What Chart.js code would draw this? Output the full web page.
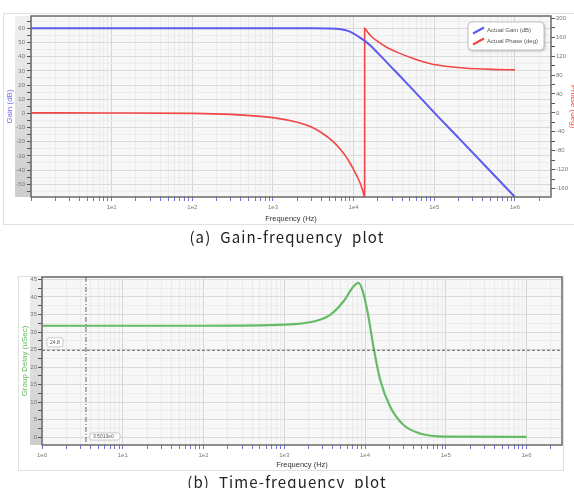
<!DOCTYPE html>
<html>
<head>
<meta charset="utf-8">
<script src="https://cdn.jsdelivr.net/npm/chart.js@4/dist/chart.umd.min.js"></script>
<style>
  html, body { margin: 0; padding: 0; background: #fff; }
  body { width: 574px; height: 488px; position: relative; overflow: hidden; }
  .frame { position: absolute; border: 1px solid #e0e0e0; box-sizing: border-box; }
  #boxA { left: 3px; top: 13px; width: 572px; height: 212px; }
  #boxB { left: 18px; top: 276px; width: 546px; height: 195px; }
  .wrap { position: absolute; left: 0; }
  #wrapA { top: 0; width: 574px; height: 230px; }
  #wrapB { top: 240px; width: 574px; height: 248px; }
  .caption { position: absolute; left: 0; width: 574px; text-align: center; font-family: "Noto Sans CJK KR", "Noto Sans", sans-serif;
             font-size: 15px; line-height: 18px; letter-spacing: 1.1px; color: #222; white-space: pre; }
  #capA { top: 228px; }
  #capB { top: 473px; }
</style>
</head>
<body>
<div class="frame" id="boxA"></div>
<div class="frame" id="boxB"></div>
<div class="wrap" id="wrapA"><canvas id="gainChart" width="574" height="230"></canvas></div>
<div class="wrap" id="wrapB"><canvas id="delayChart" width="574" height="248"></canvas></div>
<div class="caption" id="capA">(a)  Gain-frequency  plot</div>
<div class="caption" id="capB">(b)  Time-frequency  plot</div>

<script>
// ---- data ----
const gainFreq = [1, 10, 100, 1000, 3000, 5000, 7000, 8500, 10000, 12000, 14000, 16000, 20000, 30000, 50000, 100000, 200000, 500000, 1000000];
const gainDb   = [60, 60, 60, 60, 60, 59.9, 59.3, 58.2, 56.3, 53.5, 50.8, 48, 42.5, 32.1, 18.9, 0.5, -17.3, -41, -59];

const phaseFreq = [1, 10, 100, 300, 1000, 2000, 3000, 4000, 5000, 6000, 7000, 8000, 9000, 10000, 11000, 12000, 13000, 13700,
                   13700, 15000, 17000, 20000, 25000, 35000, 55000, 90000, 150000, 230000, 500000, 1000000];
const phaseDeg  = [0, -0.3, -1, -3.2, -10, -20, -30, -42, -54, -66, -79, -92, -106, -120, -134, -148, -165, -178,
                   179, 170, 160, 151, 140, 128, 115, 104, 98, 95, 92, 91];

const delayFreq = [1, 10, 100, 1000, 2300, 3700, 5400, 7200, 8300, 9560, 11000, 12700, 15400, 20500, 30000, 48000, 100000, 1000000];
const delayUs   = [31.8, 31.8, 31.8, 32.1, 33, 34.9, 38.7, 43, 44, 41, 34.5, 25.9, 16.4, 8.7, 3.5, 1.1, 0.2, 0.1];

const freqDecades  = [1, 10, 100, 1000, 10000, 100000, 1000000];
const freqLabels   = ['1e0', '1e1', '1e2', '1e3', '1e4', '1e5', '1e6'];
const gainTicks    = [-50, -40, -30, -20, -10, 0, 10, 20, 30, 40, 50, 60];
const phaseTicks   = [-160, -120, -80, -40, 0, 40, 80, 120, 160, 200];
const delayTicks   = [0, 5, 10, 15, 20, 25, 30, 35, 40, 45];

const cursorFreq  = 3.5013;
const cursorDelay = 24.8;

// ---- helpers ----
Chart.defaults.font.family = "'Liberation Sans', Arial, sans-serif";
const tickFont = { size: 6 };
const tickGrey = '#777';

function pts(xs, ys) { return xs.map((x, i) => ({ x: x, y: ys[i] })); }

function logTicks(min, max) {
  const t = [];
  for (let e = 0; e <= 6; e++) {
    for (let m = 1; m <= 9; m++) {
      const v = m * Math.pow(10, e);
      if (v >= min && v <= max) t.push({ value: v });
    }
  }
  return t;
}
// labelled ticks plus a minor one half way between, kept inside the axis range
function withMinor(major, min, max) {
  const step = major[1] - major[0];
  const t = [{ value: major[0] - step / 2 }];
  major.forEach(v => { t.push({ value: v }); t.push({ value: v + step / 2 }); });
  return t.filter(k => k.value >= min && k.value <= max);
}
function decadeLabel(v, showFirst) {
  const i = freqDecades.indexOf(v);
  if (i < 0) return '';
  if (i === 0 && !showFirst) return '';
  return freqLabels[i];
}
function isDecade(v) { return freqDecades.indexOf(v) >= 0; }

function roundRect(ctx, x, y, w, h, r) {
  ctx.beginPath();
  ctx.moveTo(x + r, y);
  ctx.lineTo(x + w - r, y); ctx.quadraticCurveTo(x + w, y, x + w, y + r);
  ctx.lineTo(x + w, y + h - r); ctx.quadraticCurveTo(x + w, y + h, x + w - r, y + h);
  ctx.lineTo(x + r, y + h); ctx.quadraticCurveTo(x, y + h, x, y + h - r);
  ctx.lineTo(x, y + r); ctx.quadraticCurveTo(x, y, x + r, y);
  ctx.closePath();
}

function drawLegend(ctx, box, entries) {
  ctx.save();
  ctx.shadowColor = 'rgba(0,0,0,0.28)';
  ctx.shadowBlur = 3; ctx.shadowOffsetX = 1; ctx.shadowOffsetY = 1;
  roundRect(ctx, box.x, box.y, box.w, box.h, 4);
  ctx.fillStyle = '#fff';
  ctx.fill();
  ctx.shadowColor = 'transparent';
  ctx.strokeStyle = '#c4c4c4'; ctx.lineWidth = 1;
  ctx.stroke();
  ctx.font = box.font + "px 'Liberation Sans', Arial, sans-serif";
  ctx.textBaseline = 'middle';
  entries.forEach((e, i) => {
    const cy = box.y + box.first + i * box.row;
    ctx.strokeStyle = e.color; ctx.lineWidth = 2;
    ctx.beginPath();
    ctx.moveTo(box.x + 5, cy + 3);
    ctx.lineTo(box.x + 16, cy - 3);
    ctx.stroke();
    ctx.fillStyle = '#555';
    ctx.fillText(e.label, box.x + 19, cy);
  });
  ctx.restore();
}

// plot background, grey band at left, and plot border
const plotDecor = {
  id: 'plotDecor',
  beforeDraw(chart, args, opts) {
    const { ctx, chartArea: a } = chart;
    ctx.save();
    const g = ctx.createLinearGradient(0, a.top, 0, a.bottom);
    g.addColorStop(0, '#f0f0f0');
    g.addColorStop(1, '#cdcdcd');
    ctx.fillStyle = g;
    ctx.fillRect(opts.bandLeft, a.top, a.left - opts.bandLeft, a.bottom - a.top);
    ctx.fillStyle = '#f7f7f7';
    ctx.fillRect(a.left, a.top, a.right - a.left, a.bottom - a.top);
    ctx.restore();
  },
  afterDraw(chart, args, opts) {
    const { ctx, chartArea: a } = chart;
    ctx.save();
    ctx.strokeStyle = '#6a6a6a';
    ctx.lineWidth = 1.5;
    ctx.strokeRect(a.left, a.top, a.right - a.left, a.bottom - a.top);
    ctx.restore();
    if (opts.legend) {
      const entries = chart.data.datasets
        .filter(d => d.label)
        .map(d => ({ label: d.label, color: d.borderColor }));
      drawLegend(ctx, opts.legend, entries);
    }
    if (opts.cursor) opts.cursor(chart);
  }
};

function xScale(max, height, titlePad, showFirst) {
  return {
    type: 'logarithmic', min: 1, max: max,
    afterBuildTicks: s => { s.ticks = logTicks(1, max); },
    afterFit: s => { s.height = height; },
    border: { display: false },
    grid: {
      color: c => isDecade(c.tick && c.tick.value) ? '#d6d6d6' : '#ebebeb',
      tickColor: '#7070e6', tickLength: 4
    },
    ticks: { autoSkip: false, maxRotation: 0, padding: 3, font: tickFont, color: tickGrey,
             callback: v => decadeLabel(v, showFirst) },
    title: { display: true, text: 'Frequency (Hz)', color: '#333', font: { size: 7.5 },
             padding: { top: 0, bottom: titlePad } }
  };
}

// ---- (a) gain / phase ----
new Chart(document.getElementById('gainChart').getContext('2d'), {
  type: 'line',
  data: {
    datasets: [{
      label: 'Actual Gain (dB)',
      data: pts(gainFreq, gainDb),
      borderColor: '#5a5af0',
      borderWidth: 2,
      yAxisID: 'y',
      cubicInterpolationMode: 'monotone'
    }, {
      label: 'Actual Phase (deg)',
      data: pts(phaseFreq, phaseDeg),
      borderColor: '#f04646',
      borderWidth: 1.6,
      yAxisID: 'yPhase',
      cubicInterpolationMode: 'monotone'
    }]
  },
  options: {
    responsive: false,
    animation: false,
    layout: { padding: { top: 16, right: 0, left: 0, bottom: 0 } },
    elements: { point: { radius: 0 } },
    scales: {
      x: xScale(2.8e6, 33, 7, false),
      y: {
        position: 'left', min: -59, max: 68.7,
        afterBuildTicks: s => { s.ticks = withMinor(gainTicks, -59, 68.7); },
        afterFit: s => { s.width = 31; },
        border: { display: false },
        grid: { color: c => (c.tick && c.tick.value % 10 === 0) ? '#dadada' : '#ededed', tickColor: '#555', tickLength: 4 },
        ticks: { autoSkip: false, padding: 2, font: tickFont, color: tickGrey,
                 callback: v => gainTicks.indexOf(v) >= 0 ? String(v) : '' },
        title: { display: true, text: 'Gain (dB)', color: '#6a6af2', font: { size: 8 }, padding: { top: 5, bottom: 0 } }
      },
      yPhase: {
        position: 'right', min: -178, max: 205,
        afterBuildTicks: s => { s.ticks = withMinor(phaseTicks, -178, 205); },
        afterFit: s => { s.width = 23; },
        border: { display: false },
        grid: { drawOnChartArea: false, tickColor: '#555', tickLength: 4 },
        ticks: { autoSkip: false, padding: 1, font: tickFont, color: tickGrey,
                 callback: v => phaseTicks.indexOf(v) >= 0 ? String(v) : '' },
        title: { display: true, text: 'Phase (deg)', color: '#f04646', font: { size: 8 }, padding: { top: -4.5, bottom: 0 } }
      }
    },
    plugins: {
      legend: { display: false },
      tooltip: { enabled: false },
      plotDecor: {
        bandLeft: 15,
        legend: { x: 468, y: 22, w: 76, h: 28, first: 8.5, row: 11, font: 6 }
      }
    }
  },
  plugins: [plotDecor]
});

// ---- (b) group delay ----
function drawCursor(chart) {
  const { ctx, chartArea: a } = chart;
  const px = chart.scales.x.getPixelForValue(cursorFreq);
  const py = chart.scales.y.getPixelForValue(cursorDelay);
  ctx.save();
  ctx.strokeStyle = '#666';
  ctx.lineWidth = 1;
  ctx.setLineDash([3, 2]);
  ctx.beginPath(); ctx.moveTo(a.left, py); ctx.lineTo(a.right, py); ctx.stroke();
  ctx.setLineDash([5, 2, 1, 2]);
  ctx.beginPath(); ctx.moveTo(px, a.top); ctx.lineTo(px, a.bottom); ctx.stroke();
  ctx.setLineDash([]);
  ctx.font = "5px 'Liberation Sans', Arial, sans-serif";
  ctx.textBaseline = 'middle';
  const labels = [
    { text: cursorDelay.toFixed(1), x: a.left + 5, y: py - 12.5, w: 16, h: 9 },
    { text: cursorFreq.toFixed(4) + 'e0', x: px + 4, y: a.bottom - 12, w: 30, h: 7 }
  ];
  labels.forEach(l => {
    ctx.shadowColor = 'rgba(0,0,0,0.2)'; ctx.shadowBlur = 2;
    roundRect(ctx, l.x, l.y, l.w, l.h, 2.5);
    ctx.fillStyle = '#fff'; ctx.fill();
    ctx.shadowColor = 'transparent';
    ctx.strokeStyle = '#d0d0d0'; ctx.stroke();
    ctx.fillStyle = '#555';
    ctx.fillText(l.text, l.x + 3, l.y + l.h / 2);
  });
  ctx.restore();
}

new Chart(document.getElementById('delayChart').getContext('2d'), {
  type: 'line',
  data: {
    datasets: [{
      label: 'Actual Group Delay (uSec)',
      data: pts(delayFreq, delayUs),
      borderColor: '#66bb66',
      borderWidth: 2.2,
      cubicInterpolationMode: 'monotone'
    }]
  },
  options: {
    responsive: false,
    animation: false,
    layout: { padding: { top: 37, right: 12, left: 0, bottom: 0 } },
    elements: { point: { radius: 0 } },
    scales: {
      x: xScale(2.75e6, 43, 18.8, true),
      y: {
        position: 'left', min: -2.2, max: 45.7,
        afterBuildTicks: s => { s.ticks = withMinor(delayTicks, -2.2, 45.7); },
        afterFit: s => { s.width = 42; },
        border: { display: false },
        grid: { color: c => (c.tick && c.tick.value % 5 === 0) ? '#dadada' : '#ededed', tickColor: '#555', tickLength: 4 },
        ticks: { autoSkip: false, padding: 1, font: tickFont, color: tickGrey,
                 callback: v => delayTicks.indexOf(v) >= 0 ? String(v) : '' },
        title: { display: true, text: 'Group Delay (uSec)', color: '#5cb85c', font: { size: 8 }, padding: { top: 20, bottom: 0 } }
      }
    },
    plugins: {
      legend: { display: false },
      tooltip: { enabled: false },
      plotDecor: {
        bandLeft: 30,
        legend: { x: 466, y: 285, w: 90, h: 13, first: 6.5, row: 11, font: 5.6 },
        cursor: drawCursor
      }
    }
  },
  plugins: [plotDecor]
});
</script>
</body>
</html>
